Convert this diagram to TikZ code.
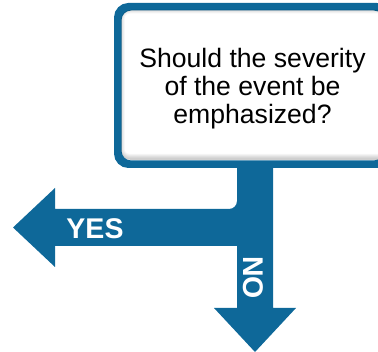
\documentclass[tikz,border=0pt]{standalone}
\usepackage{fontspec}
\setmainfont{Liberation Sans}
\definecolor{flowblue}{RGB}{14,104,153}
\tikzset{
  question/.style={draw=flowblue, line width=5pt, rounded corners=12pt, fill=white,
    minimum width=267pt, minimum height=155pt, inner sep=0pt},
  questiontext/.style={align=center, inner sep=0pt, text=black,
    font=\fontsize{26.6}{27.8}\selectfont},
  armlabel/.style={text=white, inner sep=0pt, font=\bfseries\fontsize{28.5}{28.5}\selectfont},
  arrowbody/.style={fill=flowblue, draw=none},
}
\begin{document}
\begin{tikzpicture}[x=1pt, y=-1pt]
\useasboundingbox (0,0) rectangle (378,352);
% forked arrow: stem from the box, left branch (yes) and down branch (no)
\fill[arrowbody]
  (237,150) -- (237,201) arc[start angle=0, end angle=90, radius=8] -- (55,209)
  -- (55,188) -- (13,227.5) -- (55,267) -- (55,246) -- (237,246)
  -- (237,308) -- (214,308) -- (255,352) -- (296,308) -- (273,308)
  -- (273,150) -- cycle;
% question box
\node[question] (q) at (252.5,85.5) {};
% soft inner shadow along the top and left inside the frame
\begin{scope}
  \clip[rounded corners=10pt] (121,10) rectangle (400,160);
  \foreach \w in {2,4,6,8,10}
    \draw[black, opacity=0.04, line width=\w pt, rounded corners=10pt] (119.5,8.5) rectangle (400,159);
\end{scope}
\draw[flowblue, line width=5pt, rounded corners=12pt] (q.south west) rectangle (q.north east);
\node[questiontext] (qt) at (252.5,88.5) {Should the severity\\of the event be\\emphasized?};
% branch labels
\node[armlabel] (yes) at (95,229) {YES};
\node[armlabel, rotate=-90] (no) at (253.5,277.5) {NO};
\end{tikzpicture}
\end{document}
